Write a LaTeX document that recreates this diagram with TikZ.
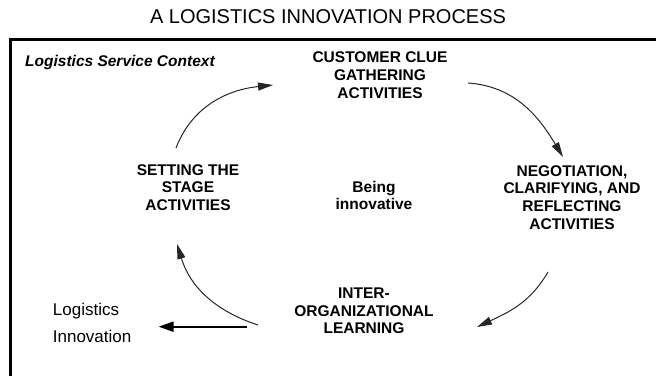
\documentclass[tikz,border=0pt]{standalone}
\usepackage{fontspec}
\setmainfont{Liberation Sans}
\usetikzlibrary{arrows.meta}
\begin{document}
\begin{tikzpicture}[x=1pt,y=1pt,
  bt/.style={font=\bfseries\fontsize{15.5}{17.7}\selectfont, align=center, inner sep=0pt},
  flow/.style={line width=1pt, draw=black!85, -{Triangle[length=15pt,width=8pt]}},
  outarrow/.style={line width=2pt, -{Triangle[length=15pt,width=10pt]}},
  frame/.style={line width=3pt, line join=miter}]
\useasboundingbox (0,0) rectangle (656,375);
% title
\node[anchor=base, inner sep=0pt, font=\fontsize{20}{24}\selectfont] (title) at (328,351) {A LOGISTICS INNOVATION PROCESS};
% frame
\draw[frame] (10,-5) -- (10,335) -- (661,335);
\node[anchor=base west, inner sep=0pt, font=\bfseries\itshape\fontsize{15.5}{18}\selectfont] (ctx) at (25,308) {Logistics Service Context};
% stages
\node[bt] (cust) at (380,300) {CUSTOMER CLUE\\GATHERING\\ACTIVITIES};
\node[bt] (nego) at (572,177.5) {NEGOTIATION,\\CLARIFYING, AND\\REFLECTING\\ACTIVITIES};
\node[bt] (inter) at (364,64) {INTER-\\ORGANIZATIONAL\\LEARNING};
\node[bt] (set) at (188,187.5) {SETTING THE\\STAGE\\ACTIVITIES};
\node[bt] (being) at (374,179.5) {Being\\innovative};
\node[anchor=west, inner sep=0pt, align=left, font=\fontsize{17}{27.5}\selectfont] (logi) at (52.7,52.3) {Logistics\\Innovation};
% connector end points
\coordinate (c1s) at (176,227);
\coordinate (c1e) at (273,290);
\coordinate (c2s) at (468,292);
\coordinate (c2e) at (563,218);
\coordinate (c3s) at (548,103);
\coordinate (c3e) at (477,48);
\coordinate (c4s) at (258,50);
\coordinate (c4e) at (177,131);
\coordinate (h1) at (246.7,48.3);
% cycle arrows
\draw[flow] (c1s) to[out=69,in=186] (c1e);
\draw[flow] (c2s) to[out=-4,in=121] (c2e);
\draw[flow] (c3s) to[out=240,in=25] (c3e);
\draw[flow] (c4s) to[out=162,in=287] (c4e);
% output arrow
\draw[outarrow] (h1) -- ([xshift=27pt]logi.east |- h1);
\end{tikzpicture}
\end{document}
